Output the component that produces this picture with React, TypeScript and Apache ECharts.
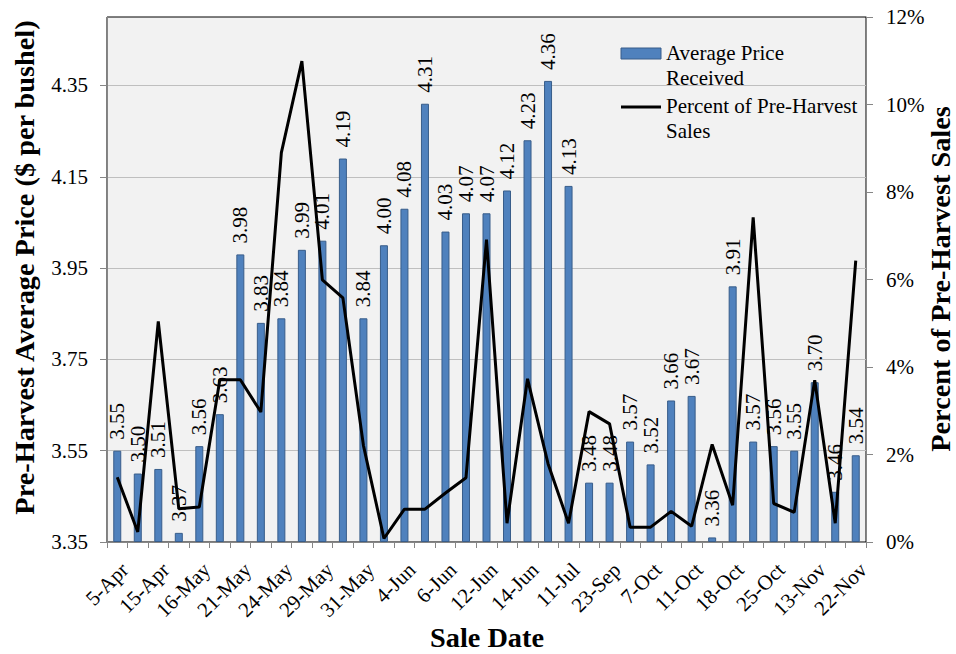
import React, { useEffect, useRef } from "react";
import * as echarts from "echarts";

// ---- data ----
const BASE_PRICE = 3.35;
const tickLabels = [
  "5-Apr", "15-Apr", "16-May", "21-May", "24-May", "29-May", "31-May", "4-Jun", "6-Jun", "12-Jun",
  "14-Jun", "11-Jul", "23-Sep", "7-Oct", "11-Oct", "18-Oct", "25-Oct", "13-Nov", "22-Nov",
];
const prices = [
  3.55, 3.5, 3.51, 3.37, 3.56, 3.63, 3.98, 3.83, 3.84, 3.99, 4.01, 4.19, 3.84, 4.0, 4.08, 4.31, 4.03,
  4.07, 4.07, 4.12, 4.23, 4.36, 4.13, 3.48, 3.48, 3.57, 3.52, 3.66, 3.67, 3.36, 3.91, 3.57, 3.56, 3.55,
  3.7, 3.46, 3.54,
];
const percents = [
  1.48, 0.23, 5.04, 0.76, 0.8, 3.71, 3.71, 2.97, 8.9, 10.99, 5.99, 5.58, 2.21, 0.08, 0.75, 0.75, 1.12,
  1.47, 6.91, 0.43, 3.73, 1.79, 0.43, 2.98, 2.7, 0.34, 0.34, 0.7, 0.36, 2.23, 0.84, 7.42, 0.88, 0.68,
  3.7, 0.43, 6.43,
];
const priceMax = 4.5;
const priceInterval = 0.2;
const pctMax = 12;
const pctInterval = 2;

const seriesNames = ["Average Price\nReceived", "Percent of Pre-Harvest\nSales"];
const titles = {
  left: "Pre-Harvest Average Price ($ per bushel)",
  right: "Percent of Pre-Harvest Sales",
  bottom: "Sale Date",
};

const FONT = "Liberation Serif";
const AXIS_GRAY = "#868686";
const TITLE_SIZE = 28.3;

export default function App() {
  const ref = useRef<HTMLDivElement>(null);
  useEffect(() => {
    const chart = echarts.init(ref.current!, null, { renderer: "svg" });
    const categories = prices.map((_, i) => (i % 2 === 0 ? tickLabels[i / 2] : ""));
    const option: any = {
      animation: false,
      backgroundColor: "#ffffff",
      textStyle: { fontFamily: FONT, color: "#000" },
      grid: {
        left: 107,
        right: 90,
        top: 17,
        bottom: 112,
        show: true,
        backgroundColor: "#f2f2f2",
        borderColor: "#000000",
        borderWidth: 1,
      },
      xAxis: {
        type: "category",
        data: categories,
        boundaryGap: true,
        axisLine: { show: true, lineStyle: { color: AXIS_GRAY, width: 1 } },
        axisTick: { show: true, interval: 0, length: 6, lineStyle: { color: AXIS_GRAY } },
        axisLabel: {
          interval: 0,
          rotate: 45,
          margin: 17,
          align: "right",
          verticalAlign: "top",
          fontSize: 21,
          fontFamily: FONT,
          color: "#000",
        },
        splitLine: { show: false },
      },
      yAxis: [
        {
          type: "value",
          min: 0,
          max: +(priceMax - BASE_PRICE).toFixed(2),
          interval: priceInterval,
          axisLine: { show: true, lineStyle: { color: AXIS_GRAY } },
          axisTick: { show: true, length: 7, lineStyle: { color: AXIS_GRAY } },
          axisLabel: {
            margin: 19,
            fontSize: 21,
            fontFamily: FONT,
            color: "#000",
            showMaxLabel: false,
            formatter: (v: number) => (v + BASE_PRICE).toFixed(2),
          },
          splitLine: { show: true, showMaxLine: false, lineStyle: { color: "#bfbfbf", width: 1 } },
        },
        {
          type: "value",
          min: 0,
          max: pctMax,
          interval: pctInterval,
          position: "right",
          axisLine: { show: true, lineStyle: { color: AXIS_GRAY } },
          axisTick: { show: true, length: 7, lineStyle: { color: AXIS_GRAY } },
          axisLabel: {
            margin: 20,
            fontSize: 21,
            fontFamily: FONT,
            color: "#000",
            formatter: "{value}%",
          },
          splitLine: { show: false },
        },
      ],
      series: [
        {
          name: seriesNames[0],
          type: "bar",
          yAxisIndex: 0,
          barWidth: 8,
          data: prices.map((v) => +(v - BASE_PRICE).toFixed(2)),
          itemStyle: { color: "#4f81bd", borderColor: "#385d8a", borderWidth: 1 },
          label: {
            show: true,
            position: "top",
            rotate: 90,
            align: "left",
            verticalAlign: "middle",
            distance: 11,
            fontSize: 21,
            fontFamily: FONT,
            color: "#000",
            formatter: (p: any) => prices[p.dataIndex].toFixed(2),
          },
          z: 2,
        },
        {
          name: seriesNames[1],
          type: "line",
          yAxisIndex: 1,
          data: percents,
          symbol: "none",
          lineStyle: { color: "#000", width: 3 },
          z: 3,
        },
      ],
      graphic: [
        {
          type: "text",
          x: 24,
          y: 267.5,
          rotation: Math.PI / 2,
          style: {
            text: titles.left,
            fill: "#000",
            fontSize: TITLE_SIZE,
            fontWeight: "bold",
            fontFamily: FONT,
            align: "center",
            verticalAlign: "middle",
          },
        },
        {
          type: "text",
          x: 940,
          y: 279,
          rotation: Math.PI / 2,
          style: {
            text: titles.right,
            fill: "#000",
            fontSize: TITLE_SIZE,
            fontWeight: "bold",
            fontFamily: FONT,
            align: "center",
            verticalAlign: "middle",
          },
        },
        {
          type: "text",
          x: 487,
          y: 637,
          style: {
            text: titles.bottom,
            fill: "#000",
            fontSize: TITLE_SIZE,
            fontWeight: "bold",
            fontFamily: FONT,
            align: "center",
            verticalAlign: "middle",
          },
        },
        {
          type: "rect",
          shape: { x: 621, y: 48, width: 40, height: 11 },
          style: { fill: "#4f81bd", stroke: "#385d8a", lineWidth: 1 },
          z: 10,
        },
        {
          type: "text",
          x: 666,
          y: 40.5,
          style: {
            text: seriesNames[0],
            fill: "#000",
            fontSize: 21,
            lineHeight: 25,
            fontFamily: FONT,
            align: "left",
            verticalAlign: "top",
          },
          z: 10,
        },
        {
          type: "line",
          shape: { x1: 621, y1: 107, x2: 661, y2: 107 },
          style: { stroke: "#000", lineWidth: 3 },
          z: 10,
        },
        {
          type: "text",
          x: 666,
          y: 93.5,
          style: {
            text: seriesNames[1],
            fill: "#000",
            fontSize: 21,
            lineHeight: 25,
            fontFamily: FONT,
            align: "left",
            verticalAlign: "top",
          },
          z: 10,
        },
      ],
    };
    chart.setOption(option);
    return () => chart.dispose();
  }, []);
  return (
    <div
      ref={ref}
      style={{ position: "fixed", left: 0, top: 0, width: 956, height: 654, background: "#fff" }}
    />
  );
}
